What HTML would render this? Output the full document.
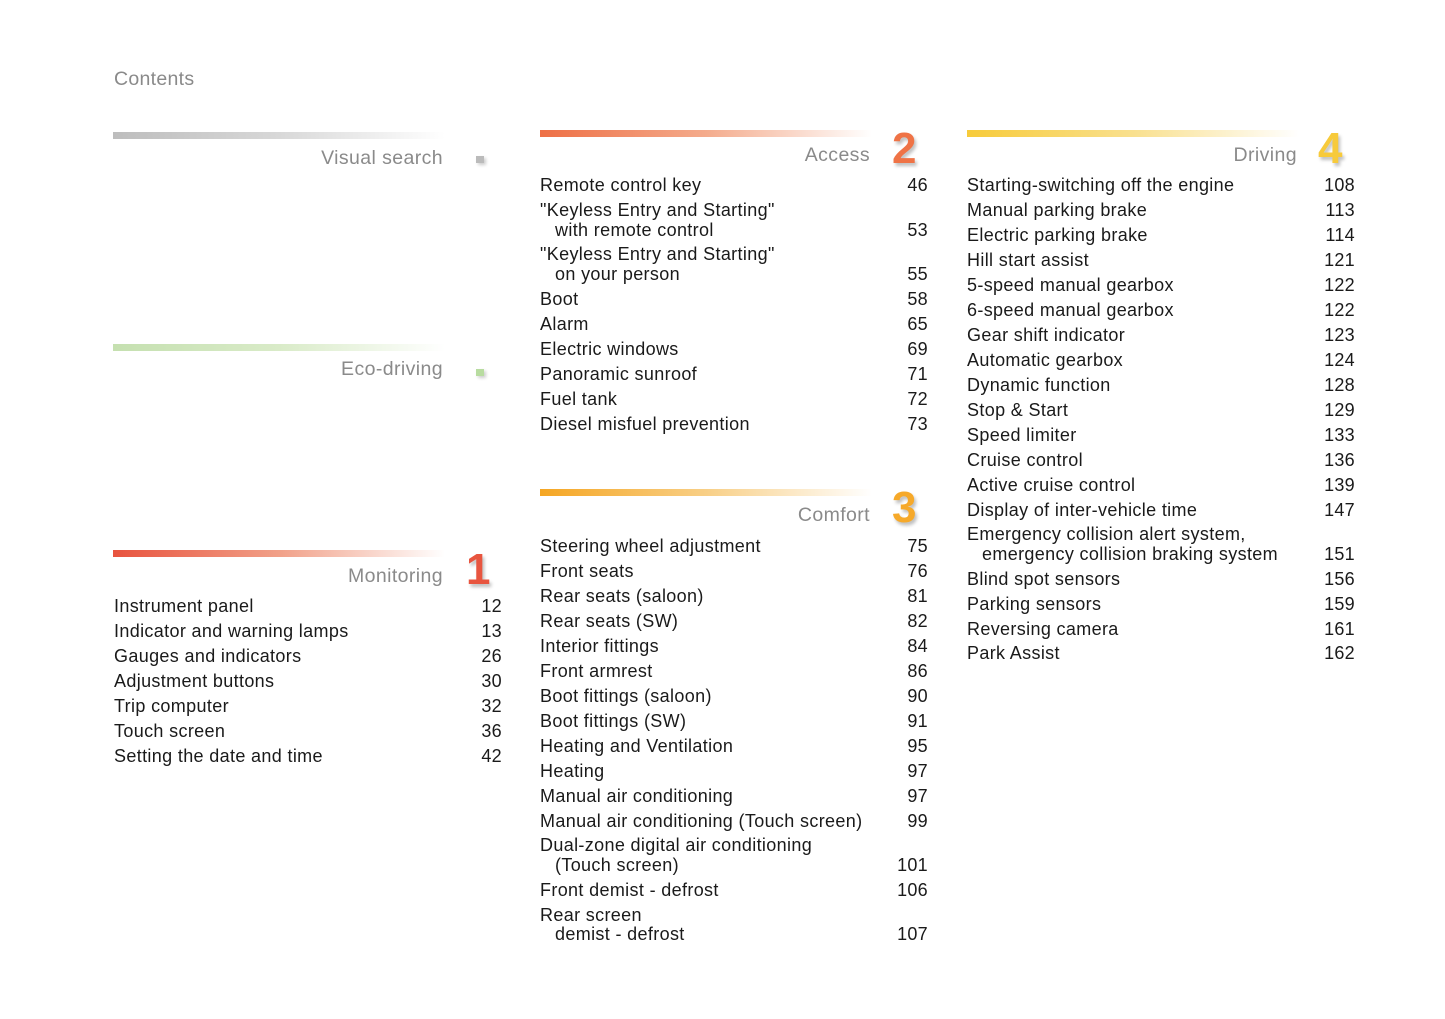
<!DOCTYPE html>
<html><head><meta charset="utf-8"><style>
body{margin:0;width:1445px;height:1019px;background:#fff;position:relative;overflow:hidden;font-family:"Liberation Sans",sans-serif;}
div{position:absolute;white-space:nowrap;}
.t,.n{margin-top:1px;}
.t{font-size:18px;line-height:22px;height:22px;color:#1a1a1a;letter-spacing:0.35px;}
.n{font-size:18px;line-height:22px;height:22px;color:#1a1a1a;text-align:right;width:60px;letter-spacing:0.3px;}
.h{font-size:19.5px;line-height:22px;color:#8a8a8a;text-align:right;width:300px;letter-spacing:0.4px;margin-top:2px;}
.bar{height:7px;}
.big{font-size:44px;font-weight:bold;line-height:44px;text-shadow:2px 3px 3px rgba(0,0,0,0.25);}
</style></head><body>
<div style="left:114px;top:68px;font-size:19.5px;line-height:22px;color:#8a8a8a;letter-spacing:0.3px">Contents</div>

<div class="bar" style="left:113px;top:132px;width:332px;background:linear-gradient(90deg,#bdbdbd,#d8d8d8 50%,#fff)"></div>
<div class="h" style="left:143px;top:145px">Visual search</div>
<div style="left:476px;top:156px;width:8px;height:7px;background:#bbb;box-shadow:2px 2px 3px rgba(0,0,0,.2)"></div>

<div class="bar" style="left:113px;top:344px;width:332px;background:linear-gradient(90deg,#c5e0b0,#d9ebc8 50%,#fff)"></div>
<div class="h" style="left:143px;top:356px">Eco-driving</div>
<div style="left:476px;top:369px;width:8px;height:7px;background:#b8dca0;box-shadow:2px 2px 3px rgba(0,0,0,.2)"></div>

<div class="bar" style="left:113px;top:550px;width:332px;background:linear-gradient(90deg,#e8533e,#f1a088 50%,#fff)"></div>
<div class="h" style="left:143px;top:563px">Monitoring</div>
<div class="big" style="left:466px;top:548px;color:#e8553f">1</div>

<div class="bar" style="left:540px;top:130px;width:332px;background:linear-gradient(90deg,#ee6f45,#f4ab8c 50%,#fff)"></div>
<div class="h" style="left:570px;top:142px">Access</div>
<div class="big" style="left:892px;top:127px;color:#ef7346">2</div>

<div class="bar" style="left:540px;top:489px;width:332px;background:linear-gradient(90deg,#f5a623,#f8cf86 50%,#fff)"></div>
<div class="h" style="left:570px;top:502px">Comfort</div>
<div class="big" style="left:892px;top:486px;color:#f6a92a">3</div>

<div class="bar" style="left:967px;top:130px;width:332px;background:linear-gradient(90deg,#f7cb3a,#f9e08e 50%,#fff)"></div>
<div class="h" style="left:997px;top:142px">Driving</div>
<div class="big" style="left:1318px;top:127px;color:#f7ca3b">4</div>

<!-- col1 -->
<div class="t" style="left:114px;top:594px">Instrument panel</div><div class="n" style="left:442px;top:594px">12</div>
<div class="t" style="left:114px;top:619px">Indicator and warning lamps</div><div class="n" style="left:442px;top:619px">13</div>
<div class="t" style="left:114px;top:644px">Gauges and indicators</div><div class="n" style="left:442px;top:644px">26</div>
<div class="t" style="left:114px;top:669px">Adjustment buttons</div><div class="n" style="left:442px;top:669px">30</div>
<div class="t" style="left:114px;top:694px">Trip computer</div><div class="n" style="left:442px;top:694px">32</div>
<div class="t" style="left:114px;top:719px">Touch screen</div><div class="n" style="left:442px;top:719px">36</div>
<div class="t" style="left:114px;top:744px">Setting the date and time</div><div class="n" style="left:442px;top:744px">42</div>

<!-- col2 access -->
<div class="t" style="left:540px;top:173px">Remote control key</div><div class="n" style="left:868px;top:173px">46</div>
<div class="t" style="left:540px;top:198px">"Keyless Entry and Starting"</div>
<div class="t" style="left:555px;top:218px">with remote control</div><div class="n" style="left:868px;top:218px">53</div>
<div class="t" style="left:540px;top:242px">"Keyless Entry and Starting"</div>
<div class="t" style="left:555px;top:262px">on your person</div><div class="n" style="left:868px;top:262px">55</div>
<div class="t" style="left:540px;top:287px">Boot</div><div class="n" style="left:868px;top:287px">58</div>
<div class="t" style="left:540px;top:312px">Alarm</div><div class="n" style="left:868px;top:312px">65</div>
<div class="t" style="left:540px;top:337px">Electric windows</div><div class="n" style="left:868px;top:337px">69</div>
<div class="t" style="left:540px;top:362px">Panoramic sunroof</div><div class="n" style="left:868px;top:362px">71</div>
<div class="t" style="left:540px;top:387px">Fuel tank</div><div class="n" style="left:868px;top:387px">72</div>
<div class="t" style="left:540px;top:412px">Diesel misfuel prevention</div><div class="n" style="left:868px;top:412px">73</div>

<!-- comfort -->
<div class="t" style="left:540px;top:534px">Steering wheel adjustment</div><div class="n" style="left:868px;top:534px">75</div>
<div class="t" style="left:540px;top:559px">Front seats</div><div class="n" style="left:868px;top:559px">76</div>
<div class="t" style="left:540px;top:584px">Rear seats (saloon)</div><div class="n" style="left:868px;top:584px">81</div>
<div class="t" style="left:540px;top:609px">Rear seats (SW)</div><div class="n" style="left:868px;top:609px">82</div>
<div class="t" style="left:540px;top:634px">Interior fittings</div><div class="n" style="left:868px;top:634px">84</div>
<div class="t" style="left:540px;top:659px">Front armrest</div><div class="n" style="left:868px;top:659px">86</div>
<div class="t" style="left:540px;top:684px">Boot fittings (saloon)</div><div class="n" style="left:868px;top:684px">90</div>
<div class="t" style="left:540px;top:709px">Boot fittings (SW)</div><div class="n" style="left:868px;top:709px">91</div>
<div class="t" style="left:540px;top:734px">Heating and Ventilation</div><div class="n" style="left:868px;top:734px">95</div>
<div class="t" style="left:540px;top:759px">Heating</div><div class="n" style="left:868px;top:759px">97</div>
<div class="t" style="left:540px;top:784px">Manual air conditioning</div><div class="n" style="left:868px;top:784px">97</div>
<div class="t" style="left:540px;top:809px">Manual air conditioning (Touch screen)</div><div class="n" style="left:868px;top:809px">99</div>
<div class="t" style="left:540px;top:833px">Dual-zone digital air conditioning</div>
<div class="t" style="left:555px;top:853px">(Touch screen)</div><div class="n" style="left:868px;top:853px">101</div>
<div class="t" style="left:540px;top:878px">Front demist - defrost</div><div class="n" style="left:868px;top:878px">106</div>
<div class="t" style="left:540px;top:903px">Rear screen</div>
<div class="t" style="left:555px;top:922px">demist - defrost</div><div class="n" style="left:868px;top:922px">107</div>

<!-- driving -->
<div class="t" style="left:967px;top:173px">Starting-switching off the engine</div><div class="n" style="left:1295px;top:173px">108</div>
<div class="t" style="left:967px;top:198px">Manual parking brake</div><div class="n" style="left:1295px;top:198px">113</div>
<div class="t" style="left:967px;top:223px">Electric parking brake</div><div class="n" style="left:1295px;top:223px">114</div>
<div class="t" style="left:967px;top:248px">Hill start assist</div><div class="n" style="left:1295px;top:248px">121</div>
<div class="t" style="left:967px;top:273px">5-speed manual gearbox</div><div class="n" style="left:1295px;top:273px">122</div>
<div class="t" style="left:967px;top:298px">6-speed manual gearbox</div><div class="n" style="left:1295px;top:298px">122</div>
<div class="t" style="left:967px;top:323px">Gear shift indicator</div><div class="n" style="left:1295px;top:323px">123</div>
<div class="t" style="left:967px;top:348px">Automatic gearbox</div><div class="n" style="left:1295px;top:348px">124</div>
<div class="t" style="left:967px;top:373px">Dynamic function</div><div class="n" style="left:1295px;top:373px">128</div>
<div class="t" style="left:967px;top:398px">Stop &amp; Start</div><div class="n" style="left:1295px;top:398px">129</div>
<div class="t" style="left:967px;top:423px">Speed limiter</div><div class="n" style="left:1295px;top:423px">133</div>
<div class="t" style="left:967px;top:448px">Cruise control</div><div class="n" style="left:1295px;top:448px">136</div>
<div class="t" style="left:967px;top:473px">Active cruise control</div><div class="n" style="left:1295px;top:473px">139</div>
<div class="t" style="left:967px;top:498px">Display of inter-vehicle time</div><div class="n" style="left:1295px;top:498px">147</div>
<div class="t" style="left:967px;top:522px">Emergency collision alert system,</div>
<div class="t" style="left:982px;top:542px">emergency collision braking system</div><div class="n" style="left:1295px;top:542px">151</div>
<div class="t" style="left:967px;top:567px">Blind spot sensors</div><div class="n" style="left:1295px;top:567px">156</div>
<div class="t" style="left:967px;top:592px">Parking sensors</div><div class="n" style="left:1295px;top:592px">159</div>
<div class="t" style="left:967px;top:617px">Reversing camera</div><div class="n" style="left:1295px;top:617px">161</div>
<div class="t" style="left:967px;top:641px">Park Assist</div><div class="n" style="left:1295px;top:641px">162</div>
</body></html>
